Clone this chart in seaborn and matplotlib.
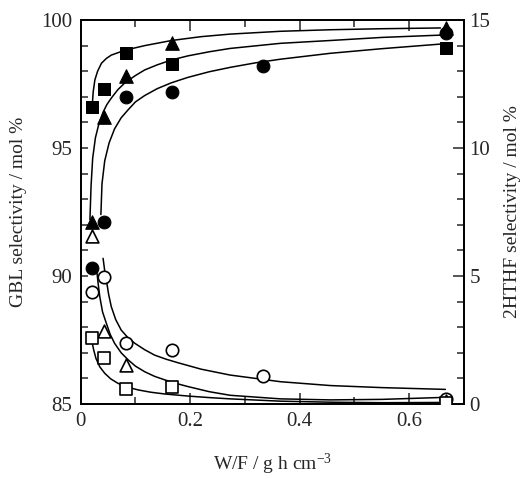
import matplotlib
matplotlib.use("Agg")
import matplotlib.pyplot as plt
import seaborn as sns
from matplotlib.ticker import MultipleLocator, FuncFormatter

sns.set_theme(style="ticks")
plt.rcParams['font.family'] = ['Liberation Serif', 'DejaVu Serif']
plt.rcParams['mathtext.default'] = 'regular'

# W/F values (g h cm-3)
wf = [0.021, 0.042, 0.083, 0.167, 0.333, 0.667]

# GBL selectivity (left axis, filled markers)
gbl_square_x = [0.021, 0.042, 0.083, 0.167, 0.667]
gbl_square = [96.6, 97.3, 98.7, 98.3, 98.9]
gbl_triangle_x = [0.021, 0.042, 0.083, 0.167, 0.667]
gbl_triangle = [92.1, 96.2, 97.8, 99.1, 99.7]
gbl_circle_x = wf
gbl_circle = [90.3, 92.1, 97.0, 97.2, 98.2, 99.5]

# 2HTHF selectivity (right axis, open markers)
hthf_circle_x = wf
hthf_circle = [4.39, 4.97, 2.40, 2.11, 1.09, 0.18]
hthf_triangle_x = [0.021, 0.042, 0.083, 0.667]
hthf_triangle = [6.56, 2.86, 1.52, 0.10]
hthf_square_x = [0.021, 0.042, 0.083, 0.167, 0.667]
hthf_square = [2.57, 1.78, 0.57, 0.68, 0.03]

# fitted curves
curve_a_x = [0.021, 0.023, 0.026, 0.031, 0.038, 0.047, 0.056, 0.081, 0.117, 0.166, 0.22, 0.273, 0.365, 0.456, 0.55, 0.657]
curve_a_y = [96.6, 97.2, 97.66, 98.0, 98.31, 98.5, 98.63, 98.82, 99.0, 99.2, 99.35, 99.45, 99.56, 99.62, 99.66, 99.69]
curve_b_x = [0.017, 0.019, 0.022, 0.027, 0.034, 0.041, 0.048, 0.056, 0.068, 0.081, 0.1, 0.117, 0.14, 0.166, 0.196, 0.235, 0.273, 0.365, 0.456, 0.55, 0.657]
curve_b_y = [92.2, 93.5, 94.6, 95.4, 96.0, 96.4, 96.7, 96.95, 97.28, 97.55, 97.83, 98.05, 98.25, 98.44, 98.6, 98.76, 98.89, 99.09, 99.2, 99.32, 99.41]
curve_c_x = [0.037, 0.039, 0.044, 0.052, 0.062, 0.074, 0.087, 0.1, 0.117, 0.14, 0.166, 0.196, 0.235, 0.273, 0.32, 0.365, 0.456, 0.55, 0.657]
curve_c_y = [92.4, 93.6, 94.5, 95.2, 95.75, 96.18, 96.5, 96.8, 97.05, 97.32, 97.55, 97.76, 97.98, 98.15, 98.33, 98.47, 98.7, 98.88, 99.06]

curve_d_x = [0.041, 0.044, 0.047, 0.051, 0.056, 0.064, 0.074, 0.086, 0.099, 0.117, 0.135, 0.156, 0.178, 0.22, 0.273, 0.365, 0.456, 0.55, 0.666]
curve_d_y = [5.69, 5.2, 4.84, 4.3, 3.80, 3.3, 2.89, 2.6, 2.37, 2.12, 1.91, 1.75, 1.61, 1.36, 1.13, 0.87, 0.72, 0.64, 0.57]
curve_e_x = [0.029, 0.032, 0.035, 0.04, 0.047, 0.054, 0.062, 0.074, 0.087, 0.1, 0.117, 0.135, 0.154, 0.175, 0.196, 0.235, 0.273, 0.365, 0.456, 0.55, 0.666]
curve_e_y = [5.30, 4.7, 4.19, 3.6, 3.15, 2.72, 2.37, 2.0, 1.72, 1.48, 1.26, 1.08, 0.94, 0.8, 0.68, 0.48, 0.34, 0.20, 0.16, 0.18, 0.26]
curve_f_x = [0.020, 0.024, 0.028, 0.035, 0.044, 0.055, 0.068, 0.085, 0.105, 0.128, 0.154, 0.196, 0.235, 0.273, 0.365, 0.456, 0.55, 0.666]
curve_f_y = [2.5, 2.1, 1.78, 1.45, 1.20, 0.98, 0.81, 0.66, 0.55, 0.46, 0.39, 0.31, 0.25, 0.20, 0.11, 0.07, 0.05, 0.06]

fig = plt.figure(figsize=(5.28, 4.79), dpi=100)
ax = fig.add_axes([0.1527, 0.1566, 0.7261, 0.8016])
ax2 = ax.twinx()

for cx, cy in [(curve_a_x, curve_a_y), (curve_b_x, curve_b_y), (curve_c_x, curve_c_y)]:
    sns.lineplot(x=cx, y=cy, ax=ax, color='black', linewidth=1.1, sort=False, estimator=None, zorder=2)
for cx, cy in [(curve_d_x, curve_d_y), (curve_e_x, curve_e_y), (curve_f_x, curve_f_y)]:
    sns.lineplot(x=cx, y=cy, ax=ax2, color='black', linewidth=1.1, sort=False, estimator=None, zorder=2)

sns.scatterplot(x=gbl_square_x, y=gbl_square, ax=ax, marker='s', s=80, color='black', edgecolor='black', zorder=3)
sns.scatterplot(x=gbl_triangle_x, y=gbl_triangle, ax=ax, marker='^', s=95, color='black', edgecolor='black', zorder=3)
sns.scatterplot(x=gbl_circle_x, y=gbl_circle, ax=ax, marker='o', s=85, color='black', edgecolor='black', zorder=3)

sns.scatterplot(x=hthf_circle_x, y=hthf_circle, ax=ax2, marker='o', s=80, color='white', edgecolor='black', linewidth=1.2, zorder=3)
sns.scatterplot(x=hthf_triangle_x, y=hthf_triangle, ax=ax2, marker='^', s=85, color='white', edgecolor='black', linewidth=1.2, zorder=3)
sns.scatterplot(x=hthf_square_x, y=hthf_square, ax=ax2, marker='s', s=75, color='white', edgecolor='black', linewidth=1.2, zorder=3)

ax.set_xlim(0, 0.7)
ax.set_ylim(85, 100)
ax2.set_ylim(0, 15)

ax.xaxis.set_major_locator(MultipleLocator(0.2))
ax.xaxis.set_minor_locator(MultipleLocator(0.1))
ax.xaxis.set_major_formatter(FuncFormatter(lambda v, p: '0' if abs(v) < 1e-9 else f'{v:.1f}'))
ax.yaxis.set_major_locator(MultipleLocator(5))
ax.yaxis.set_minor_locator(MultipleLocator(1))
ax2.yaxis.set_major_locator(MultipleLocator(5))
ax2.yaxis.set_minor_locator(MultipleLocator(1))

ax.tick_params(axis='x', which='both', direction='in', top=True, bottom=True, width=1.1, labelsize=15, pad=6)
ax.tick_params(axis='x', which='major', length=8)
ax.tick_params(axis='x', which='minor', length=5)
ax.tick_params(axis='y', which='both', direction='in', left=True, right=False, length=5, width=1.1, labelsize=15, pad=6)
ax2.tick_params(axis='y', which='both', direction='in', right=True, width=1.1, labelsize=15, pad=4)
ax2.tick_params(axis='y', which='major', length=8)
ax2.tick_params(axis='y', which='minor', length=5)

for a in (ax, ax2):
    for sp in a.spines.values():
        sp.set_visible(True)
        sp.set_linewidth(1.3)
        sp.set_color('black')

ax.set_xlabel('W/F / g h cm$^{-3}$', fontsize=14, labelpad=15)
ax.set_ylabel('GBL selectivity / mol %', fontsize=14, labelpad=10)
ax2.set_ylabel('2HTHF selectivity / mol %', fontsize=14, labelpad=10)

fig.savefig('out.png', dpi=100)
